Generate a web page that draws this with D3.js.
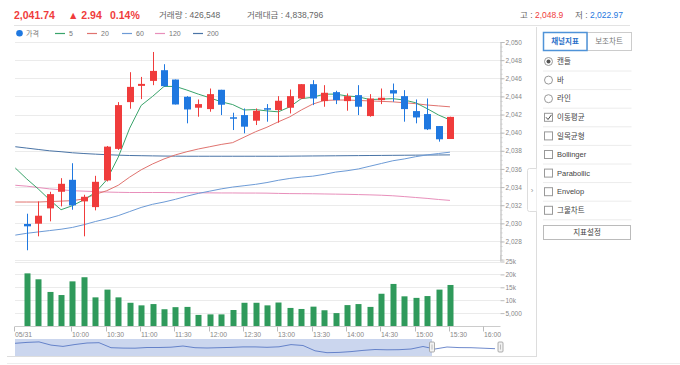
<!DOCTYPE html>
<html>
<head>
<meta charset="utf-8">
<script src="https://cdn.jsdelivr.net/npm/d3@7"></script>
<style>
body { margin: 0; background: #fff; }
svg text { font-family: "Liberation Sans", "Noto Sans CJK KR", sans-serif; }
</style>
</head>
<body>
<svg id="chart" width="680" height="365"></svg>
<script>
// 10-minute candles, 05/31
const times = ["09:20","09:30","09:40","09:50","10:00","10:10","10:20","10:30","10:40","10:50",
  "11:00","11:10","11:20","11:30","11:40","11:50","12:00","12:10","12:20","12:30",
  "12:40","12:50","13:00","13:10","13:20","13:30","13:40","13:50","14:00","14:10",
  "14:20","14:30","14:40","14:50","15:00","15:10","15:20","15:30"];
const opens = [2029.93,2029.96,2031.65,2033.48,2034.80,2032.42,2031.79,2034.73,2038.21,2043.37,
  2045.16,2045.71,2046.89,2045.86,2043.96,2042.75,2042.60,2044.73,2041.70,2041.94,
  2041.32,2042.70,2042.49,2042.75,2043.77,2045.35,2043.48,2044.47,2043.48,2044.14,
  2041.83,2043.59,2044.69,2044.03,2042.38,2042.05,2040.73,2039.30];
const highs = [2031.06,2032.42,2033.48,2034.98,2036.63,2033.15,2035.24,2038.53,2043.37,2046.67,
  2046.15,2048.90,2047.55,2045.86,2044.03,2043.66,2044.87,2044.73,2042.20,2042.67,
  2042.67,2043.15,2044.03,2044.76,2045.35,2045.79,2045.24,2044.62,2044.32,2045.24,
  2044.25,2044.87,2045.42,2044.69,2043.66,2043.77,2040.73,2041.76];
const lows = [2027.03,2028.57,2030.22,2031.87,2031.50,2028.57,2031.43,2034.62,2038.10,2042.64,
  2043.70,2045.24,2045.05,2043.11,2041.03,2041.76,2042.31,2041.94,2040.29,2039.93,
  2040.84,2041.21,2041.10,2042.12,2043.70,2043.04,2042.86,2043.15,2042.42,2041.94,
  2041.76,2043.15,2043.41,2041.21,2041.03,2040.29,2039.01,2039.30];
const closes = [2029.67,2030.84,2033.22,2034.36,2031.98,2032.93,2034.58,2038.46,2043.04,2045.05,
  2045.38,2046.81,2045.13,2043.11,2042.56,2043.15,2044.25,2043.08,2041.66,2040.66,
  2042.42,2042.65,2043.52,2044.03,2045.35,2043.77,2044.40,2043.59,2044.03,2042.86,
  2043.77,2043.85,2044.32,2042.60,2041.68,2040.37,2039.27,2041.74];
const volumes = [20400,18100,13200,12000,17300,18900,11100,14100,11100,9000,
  8000,8500,6500,7300,7400,4300,4500,4500,6200,9000,
  9000,8000,9100,7000,6600,7500,6100,5000,8100,8500,
  7400,12500,16300,11500,10900,11600,14100,15900];

// moving averages (first point is 09:10)
const maTimes = ["09:10", ...times];
const ma5 = [2036.1,2034.9,2033.8,2032.6,2031.5,2031.95,2032.6,2033.4,2034.8,2037.3,2040.5,
  2043.0,2044.0,2045.1,2045.1,2044.7,2044.25,2043.85,2043.4,2043.1,2042.5,
  2042.55,2042.4,2042.3,2042.85,2043.75,2043.9,2044.25,2044.25,2044.05,2043.95,
  2043.65,2043.7,2043.75,2043.6,2043.3,2042.65,2041.95,2041.4];
const ma20 = [2032.35,2032.35,2032.35,2032.4,2032.45,2032.5,2032.7,2033.2,2033.6,2034.2,2035.1,
  2035.9,2036.55,2037.1,2037.55,2037.9,2038.2,2038.45,2038.7,2038.9,2039.5,
  2040.1,2040.6,2041.2,2041.75,2042.5,2043.15,2043.55,2043.6,2043.6,2043.55,
  2043.5,2043.45,2043.4,2043.3,2043.2,2043.05,2042.95,2042.85];
const ma60 = [2028.7,2028.9,2029.05,2029.2,2029.35,2029.55,2029.85,2030.2,2030.5,2030.85,2031.3,
  2031.75,2032.1,2032.35,2032.65,2033.0,2033.3,2033.55,2033.8,2034.0,2034.15,
  2034.3,2034.5,2034.75,2034.95,2035.1,2035.2,2035.4,2035.65,2035.8,2036.0,
  2036.3,2036.6,2036.9,2037.1,2037.35,2037.55,2037.7,2037.85];
const ma120 = [2034.2,2034.1,2033.95,2033.8,2033.7,2033.6,2033.55,2033.5,2033.45,2033.42,2033.4,
  2033.4,2033.4,2033.4,2033.38,2033.38,2033.37,2033.36,2033.35,2033.35,2033.34,
  2033.34,2033.33,2033.3,2033.28,2033.27,2033.26,2033.24,2033.22,2033.2,2033.17,
  2033.14,2033.1,2033.04,2032.95,2032.85,2032.75,2032.63,2032.53];
const ma200 = [2038.45,2038.3,2038.15,2038.0,2037.9,2037.78,2037.7,2037.63,2037.57,2037.52,2037.48,
  2037.46,2037.44,2037.42,2037.41,2037.4,2037.4,2037.4,2037.4,2037.4,2037.4,
  2037.4,2037.4,2037.4,2037.41,2037.42,2037.43,2037.44,2037.45,2037.46,2037.47,
  2037.48,2037.49,2037.5,2037.51,2037.52,2037.53,2037.54,2037.55];
const maNames = ["5", "20", "60", "120", "200"];
const maColors = ["#3aa46b", "#e0736f", "#6d9bd6", "#e88fbb", "#4a74a6"];

const priceTicks = [2028,2030,2032,2034,2036,2038,2040,2042,2044,2046,2048,2050];
const volumeTicks = [5000, 10000, 15000, 20000, 25000];
const volumeTickLabels = ["5,000", "10k", "15k", "20k", "25k"];
const timeTicks = ["09:10","10:00","10:30","11:00","11:30","12:00","12:30","13:00","13:30","14:00","14:30","15:00","15:30","16:00"];
const timeTickLabels = ["05/31","10:00","10:30","11:00","11:30","12:00","12:30","13:00","13:30","14:00","14:30","15:00","15:30","16:00"];

// overview line in the navigator (relative level)
const navLevels = [12.7,13.6,14.1,10.9,9.6,11.5,13.0,13.3,8.3,7.9,7.8,8.5,8.5,8.8,10.0,8.3,8.0,8.3,8.6,9.1,
  9.1,8.7,9.2,11.4,10.5,5.2,3.3,3.6,4.4,5.6,6.5,6.2,6.3,7.0,9.5,7.0,9.0,8.4,8.3,7.8,7.3];

const sideOptions = ["캔들", "바", "라인", "이동평균", "일목균형", "Bollinger", "Parabollic", "Envelop", "그물차트"];
const sideKinds = ["radio-on", "radio", "radio", "check-on", "check", "check", "check", "check", "check"];

const RED = "#f03c3c", BLUE = "#1f78e0", GREEN = "#2f9a5b";

const svg = d3.select("svg#chart");
const parse = s => { const [h, m] = s.split(":").map(Number); return new Date(2019, 4, 31, h, m); };

const x = d3.scaleTime().domain([parse("09:10"), parse("16:00")]).range([15.3, 484.3]);
const y = d3.scaleLinear().domain([2026, 2050]).range([259.6, 42]);
const yv = d3.scaleLinear().domain([0, 25000]).range([326, 261.5]);
const plotLeft = 15, plotRight = 500.5;

// ---- header ----
const header = svg.append("g");
header.append("text").attr("x", 14).attr("y", 18.5).attr("fill", RED)
  .style("font-size", "10.5px").style("font-weight", "bold").text("2,041.74");
header.append("text").attr("x", 68).attr("y", 18.5).attr("fill", RED)
  .style("font-size", "10.5px").style("font-weight", "bold").text("▲ 2.94");
header.append("text").attr("x", 110).attr("y", 18.5).attr("fill", RED)
  .style("font-size", "10.5px").style("font-weight", "bold").text("0.14%");
header.append("text").attr("x", 159).attr("y", 18).attr("fill", "#666")
  .style("font-size", "8.5px").text("거래량 : 426,548");
header.append("text").attr("x", 247).attr("y", 18).attr("fill", "#666")
  .style("font-size", "8.5px").text("거래대금 : 4,838,796");
const hi = header.append("text").attr("x", 520).attr("y", 17.5).style("font-size", "8.5px");
hi.append("tspan").attr("fill", "#666").text("고 : ");
hi.append("tspan").attr("fill", RED).text("2,048.9");
const lo = header.append("text").attr("x", 575).attr("y", 17.5).style("font-size", "8.5px");
lo.append("tspan").attr("fill", "#666").text("저 : ");
lo.append("tspan").attr("fill", BLUE).text("2,022.97");
svg.append("line").attr("x1", 14).attr("x2", 630).attr("y1", 25.5).attr("y2", 25.5)
  .attr("stroke", "#e3e3e3");

// ---- legend ----
const legend = svg.append("g").style("font-size", "7px").attr("fill", "#777");
legend.append("circle").attr("cx", 19.5).attr("cy", 33.3).attr("r", 3.3).attr("fill", BLUE);
legend.append("text").attr("x", 26).attr("y", 35.8).attr("fill", "#777").text("가격");
const legendX = [55, 87, 122, 155, 193];
maNames.forEach((name, i) => {
  legend.append("line").attr("x1", legendX[i]).attr("x2", legendX[i] + 10)
    .attr("y1", 33.5).attr("y2", 33.5).attr("stroke", maColors[i]).attr("stroke-width", 1.2);
  legend.append("text").attr("x", legendX[i] + 14).attr("y", 36).attr("fill", "#777").text(name);
});

// ---- grid ----
const grid = svg.append("g").attr("stroke", "#ebebeb").attr("stroke-width", 1);
grid.selectAll("line.p").data([2026, ...priceTicks]).join("line").attr("class", "p")
  .attr("x1", plotLeft).attr("x2", plotRight)
  .attr("y1", d => Math.round(y(d)) + 0.5).attr("y2", d => Math.round(y(d)) + 0.5);
grid.selectAll("line.v").data(volumeTicks).join("line").attr("class", "v")
  .attr("x1", plotLeft).attr("x2", plotRight)
  .attr("y1", d => Math.round(yv(d)) + 0.5).attr("y2", d => Math.round(yv(d)) + 0.5);

// ---- moving averages ----
const maSeries = [ma5, ma20, ma60, ma120, ma200];
const maLine = d3.line().x((d, i) => x(parse(maTimes[i]))).y(d => y(d));
// draw slower averages first so the 5-line sits on top
[4, 3, 2, 1, 0].forEach(k => {
  svg.append("path").datum(maSeries[k]).attr("d", maLine)
    .attr("fill", "none").attr("stroke", maColors[k]).attr("stroke-width", 1);
});

// ---- candles ----
const candles = times.map((t, i) => ({ t: parse(t), o: opens[i], h: highs[i], l: lows[i], c: closes[i], v: volumes[i] }));
const cg = svg.append("g").selectAll("g").data(candles).join("g");
cg.append("line")
  .attr("x1", d => Math.round(x(d.t)) + 0.5).attr("x2", d => Math.round(x(d.t)) + 0.5)
  .attr("y1", d => y(d.h)).attr("y2", d => y(d.l))
  .attr("stroke", d => d.c >= d.o ? RED : BLUE).attr("stroke-width", 1);
cg.append("rect")
  .attr("x", d => Math.round(x(d.t)) - 3)
  .attr("width", 7)
  .attr("y", d => y(Math.max(d.o, d.c)))
  .attr("height", d => Math.max(1.5, Math.abs(y(d.o) - y(d.c))))
  .attr("fill", d => d.c >= d.o ? RED : BLUE);

// ---- volume ----
svg.append("g").selectAll("rect").data(candles).join("rect")
  .attr("x", d => Math.round(x(d.t)) - 2.5)
  .attr("width", 6)
  .attr("y", d => yv(d.v))
  .attr("height", d => yv(0) - yv(d.v))
  .attr("fill", GREEN);

// ---- right axes ----
const axisStyle = g => {
  g.select(".domain").attr("stroke", "#ccc");
  g.selectAll(".tick line").attr("stroke", "#bbb");
  g.selectAll(".tick text").attr("fill", "#888").style("font-size", "6.5px")
    .style("font-family", "Liberation Sans, sans-serif");
};
const minorTicks = d3.range(2026, 2050.01, 0.5);
svg.append("g").attr("transform", `translate(${plotRight},0)`)
  .call(d3.axisRight(y).tickValues(minorTicks).tickSize(2).tickFormat(""))
  .call(g => { g.select(".domain").attr("stroke", "#ccc"); g.selectAll(".tick line").attr("stroke", "#ccc"); });
svg.append("g").attr("transform", `translate(${plotRight},0)`)
  .call(d3.axisRight(y).tickValues(priceTicks).tickSize(4).tickPadding(1).tickFormat(d3.format(",")))
  .call(axisStyle);
svg.append("g").attr("transform", `translate(${plotRight},0)`)
  .call(d3.axisRight(yv).tickValues(volumeTicks).tickSize(4).tickPadding(1)
    .tickFormat((d, i) => volumeTickLabels[i]))
  .call(axisStyle)
  .call(g => g.select(".domain").attr("d", `M0,${yv(27500)}V${yv(25000)}`));

// ---- time axis ----
const tAxis = svg.append("g");
tAxis.append("line").attr("x1", plotLeft).attr("x2", plotRight)
  .attr("y1", 326.5).attr("y2", 326.5).attr("stroke", "#ccc");
const tt = tAxis.selectAll("g").data(timeTicks).join("g")
  .attr("transform", d => `translate(${Math.round(x(parse(d))) - 0.5},326.5)`);
tt.append("line").attr("y2", 5).attr("stroke", "#bbb");
tt.append("text").attr("x", 0.5).attr("y", 10).attr("fill", "#888")
  .style("font-size", "6.8px").text((d, i) => timeTickLabels[i]);

// ---- navigator ----
const nx = d3.scaleLinear().domain([0, navLevels.length - 1]).range([15, 495]);
const ny = d3.scaleLinear().domain([0, 17]).range([356, 339]);
const nav = svg.append("g");
nav.append("rect").attr("x", 15).attr("y", 339).attr("width", 417).attr("height", 17)
  .attr("fill", "#cbd6ee");
nav.append("path").datum(navLevels)
  .attr("d", d3.line().x((d, i) => nx(i)).y(d => ny(d)))
  .attr("fill", "none").attr("stroke", "#4a6cbf").attr("stroke-width", 0.8);
[432, 500.5].forEach(hx => {
  nav.append("rect").attr("x", hx - 2.5).attr("y", 342).attr("width", 5).attr("height", 10)
    .attr("rx", 1).attr("fill", "#f2f2f2").attr("stroke", "#999").attr("stroke-width", 0.8);
  nav.append("line").attr("x1", hx).attr("x2", hx).attr("y1", 344.5).attr("y2", 349.5)
    .attr("stroke", "#999").attr("stroke-width", 0.6);
});
svg.append("line").attr("x1", 7).attr("x2", 536).attr("y1", 356.5).attr("y2", 356.5).attr("stroke", "#ddd");
svg.append("line").attr("x1", 7).attr("x2", 680).attr("y1", 363.5).attr("y2", 363.5).attr("stroke", "#eee");

// ---- side panel ----
const side = svg.append("g");
side.append("line").attr("x1", 536.5).attr("x2", 536.5).attr("y1", 27).attr("y2", 357).attr("stroke", "#ddd");
side.append("path").attr("d", "M536.5,168.5H529.5Q527.5,168.5 527.5,170.5V209.5Q527.5,211.5 529.5,211.5H536.5")
  .attr("fill", "#fff").attr("stroke", "#ddd");
side.append("text").attr("x", 532).attr("y", 193).attr("text-anchor", "middle")
  .attr("fill", "#999").style("font-size", "8px").text("›");

side.append("line").attr("x1", 543).attr("x2", 631.5).attr("y1", 50.5).attr("y2", 50.5).attr("stroke", "#ccc");
side.append("rect").attr("x", 587).attr("y", 32.5).attr("width", 44.5).attr("height", 18)
  .attr("fill", "#fff").attr("stroke", "#ccc");
side.append("text").attr("x", 609).attr("y", 44).attr("text-anchor", "middle")
  .attr("fill", "#777").style("font-size", "7.5px").text("보조차트");
side.append("rect").attr("x", 543.5).attr("y", 32.5).attr("width", 43.5).attr("height", 18)
  .attr("fill", "#fff").attr("stroke", "#4f93d8").attr("stroke-width", 1.5);
side.append("text").attr("x", 565).attr("y", 44).attr("text-anchor", "middle")
  .attr("fill", "#2a6fc9").style("font-size", "7.5px").style("font-weight", "bold").text("채널지표");

const rows = side.selectAll("g.row").data(sideOptions).join("g").attr("class", "row")
  .attr("transform", (d, i) => `translate(0,${61.5 + i * 18.6})`);
rows.append("line").attr("x1", 543).attr("x2", 631.5).attr("y1", 9.5).attr("y2", 9.5).attr("stroke", "#ececec");
rows.append("text").attr("x", 557).attr("y", 2.6).attr("fill", "#444").style("font-size", "7.5px").text(d => d);
rows.each(function (d, i) {
  const g = d3.select(this);
  const kind = sideKinds[i];
  if (kind.startsWith("radio")) {
    g.append("circle").attr("cx", 548.5).attr("cy", 0).attr("r", 4).attr("fill", "#fff").attr("stroke", "#999");
    if (kind === "radio-on") g.append("circle").attr("cx", 548.5).attr("cy", 0).attr("r", 2).attr("fill", "#555");
  } else {
    g.append("rect").attr("x", 544.5).attr("y", -4).attr("width", 8).attr("height", 8)
      .attr("fill", "#fff").attr("stroke", "#999");
    if (kind === "check-on") g.append("path").attr("d", "M546,0L548,2.2L551.5,-2.5")
      .attr("fill", "none").attr("stroke", "#444").attr("stroke-width", 1);
  }
});
side.append("rect").attr("x", 543.5).attr("y", 225.5).attr("width", 87).attr("height", 14)
  .attr("fill", "#fff").attr("stroke", "#bbb");
side.append("text").attr("x", 587).attr("y", 235.3).attr("text-anchor", "middle")
  .attr("fill", "#444").style("font-size", "7.5px").text("지표설정");
</script>
</body>
</html>
